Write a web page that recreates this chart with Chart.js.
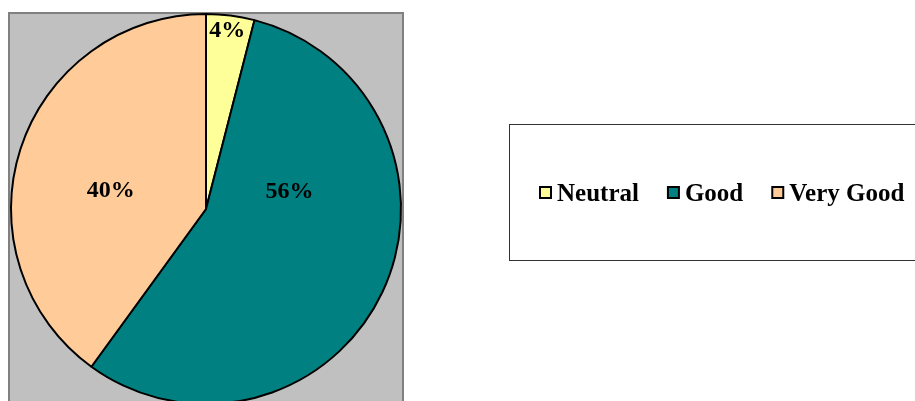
<!DOCTYPE html>
<html>
<head>
<meta charset="utf-8">
<script src="https://cdn.jsdelivr.net/npm/chart.js@4/dist/chart.umd.min.js"></script>
<style>
  html, body { margin: 0; padding: 0; background: #fff; overflow: hidden; }
  #wrap { width: 915px; height: 410px; position: relative; }
</style>
</head>
<body>
<div id="wrap"><canvas id="pieChart" width="915" height="410"></canvas></div>
<script>
// categorii si valori (procente)
const labels = ['Neutral', 'Good', 'Very Good'];
const values = [4, 56, 40];
const colors = ['#FFFF99', '#008080', '#FFCC99'];

// pozitia etichetelor in felie: fractiune din unghi si din raza
const labelSpots = [
    { t: 0.47, r: 0.93 },
    { t: 0.31, r: 0.44 },
    { t: 0.46, r: 0.50 }
];

const serif = '"Liberation Serif", "Times New Roman", serif';

// fundal gri pentru zona graficului
const plotArea = {
    id: 'plotArea',
    beforeDraw(chart) {
        const { ctx, chartArea } = chart;
        ctx.save();
        ctx.fillStyle = '#C0C0C0';
        ctx.fillRect(chartArea.left - 1, chartArea.top, chartArea.width + 2, chart.height);
        ctx.strokeStyle = '#808080';
        ctx.lineWidth = 2;
        ctx.strokeRect(chartArea.left - 1, chartArea.top, chartArea.width + 2, chart.height + 10);
        ctx.restore();
    }
};

// procentele scrise pe felii
const sliceLabels = {
    id: 'sliceLabels',
    afterDatasetsDraw(chart) {
        const { ctx } = chart;
        const meta = chart.getDatasetMeta(0);
        ctx.save();
        ctx.font = 'bold 24px ' + serif;
        ctx.fillStyle = '#000';
        ctx.textAlign = 'center';
        ctx.textBaseline = 'middle';
        meta.data.forEach((arc, i) => {
            const p = arc.getProps(['x', 'y', 'startAngle', 'endAngle', 'outerRadius'], true);
            const a = p.startAngle + (p.endAngle - p.startAngle) * labelSpots[i].t;
            const rr = p.outerRadius * labelSpots[i].r;
            ctx.fillText(values[i] + '%', p.x + Math.cos(a) * rr, p.y + Math.sin(a) * rr + 2);
        });
        ctx.restore();
    }
};

// legenda in caseta din dreapta
const boxLegend = {
    id: 'boxLegend',
    afterDraw(chart) {
        const { ctx } = chart;
        const box = { x: 509.5, y: 124.5, w: 420, h: 136 };
        ctx.save();
        ctx.fillStyle = '#fff';
        ctx.fillRect(box.x, box.y, box.w, box.h);
        ctx.strokeStyle = '#333';
        ctx.lineWidth = 1;
        ctx.strokeRect(box.x, box.y, box.w, box.h);

        ctx.font = 'bold 25px ' + serif;
        ctx.textBaseline = 'middle';
        ctx.textAlign = 'left';
        const cy = 193;
        let x = 540;
        labels.forEach((lab, i) => {
            ctx.fillStyle = colors[i];
            ctx.fillRect(x, cy - 6, 11, 11);
            ctx.strokeStyle = '#000';
            ctx.lineWidth = 2;
            ctx.strokeRect(x, cy - 6, 11, 11);
            ctx.fillStyle = '#000';
            ctx.fillText(lab, x + 17, cy + 2);
            x += 17 + ctx.measureText(lab).width + 29;
        });
        ctx.restore();
    }
};

const ctx = document.getElementById('pieChart').getContext('2d');
const pieChart = new Chart(ctx, {
    type: 'pie',
    data: {
        labels: labels,
        datasets: [{
            data: values,
            backgroundColor: colors,
            borderColor: '#000',
            borderWidth: 2
        }]
    },
    options: {
        responsive: false,
        animation: false,
        layout: { padding: { left: 10, top: 13, right: 513, bottom: 5 } },
        plugins: {
            legend: { display: false },
            tooltip: { enabled: false }
        }
    },
    plugins: [plotArea, sliceLabels, boxLegend]
});
</script>
</body>
</html>
